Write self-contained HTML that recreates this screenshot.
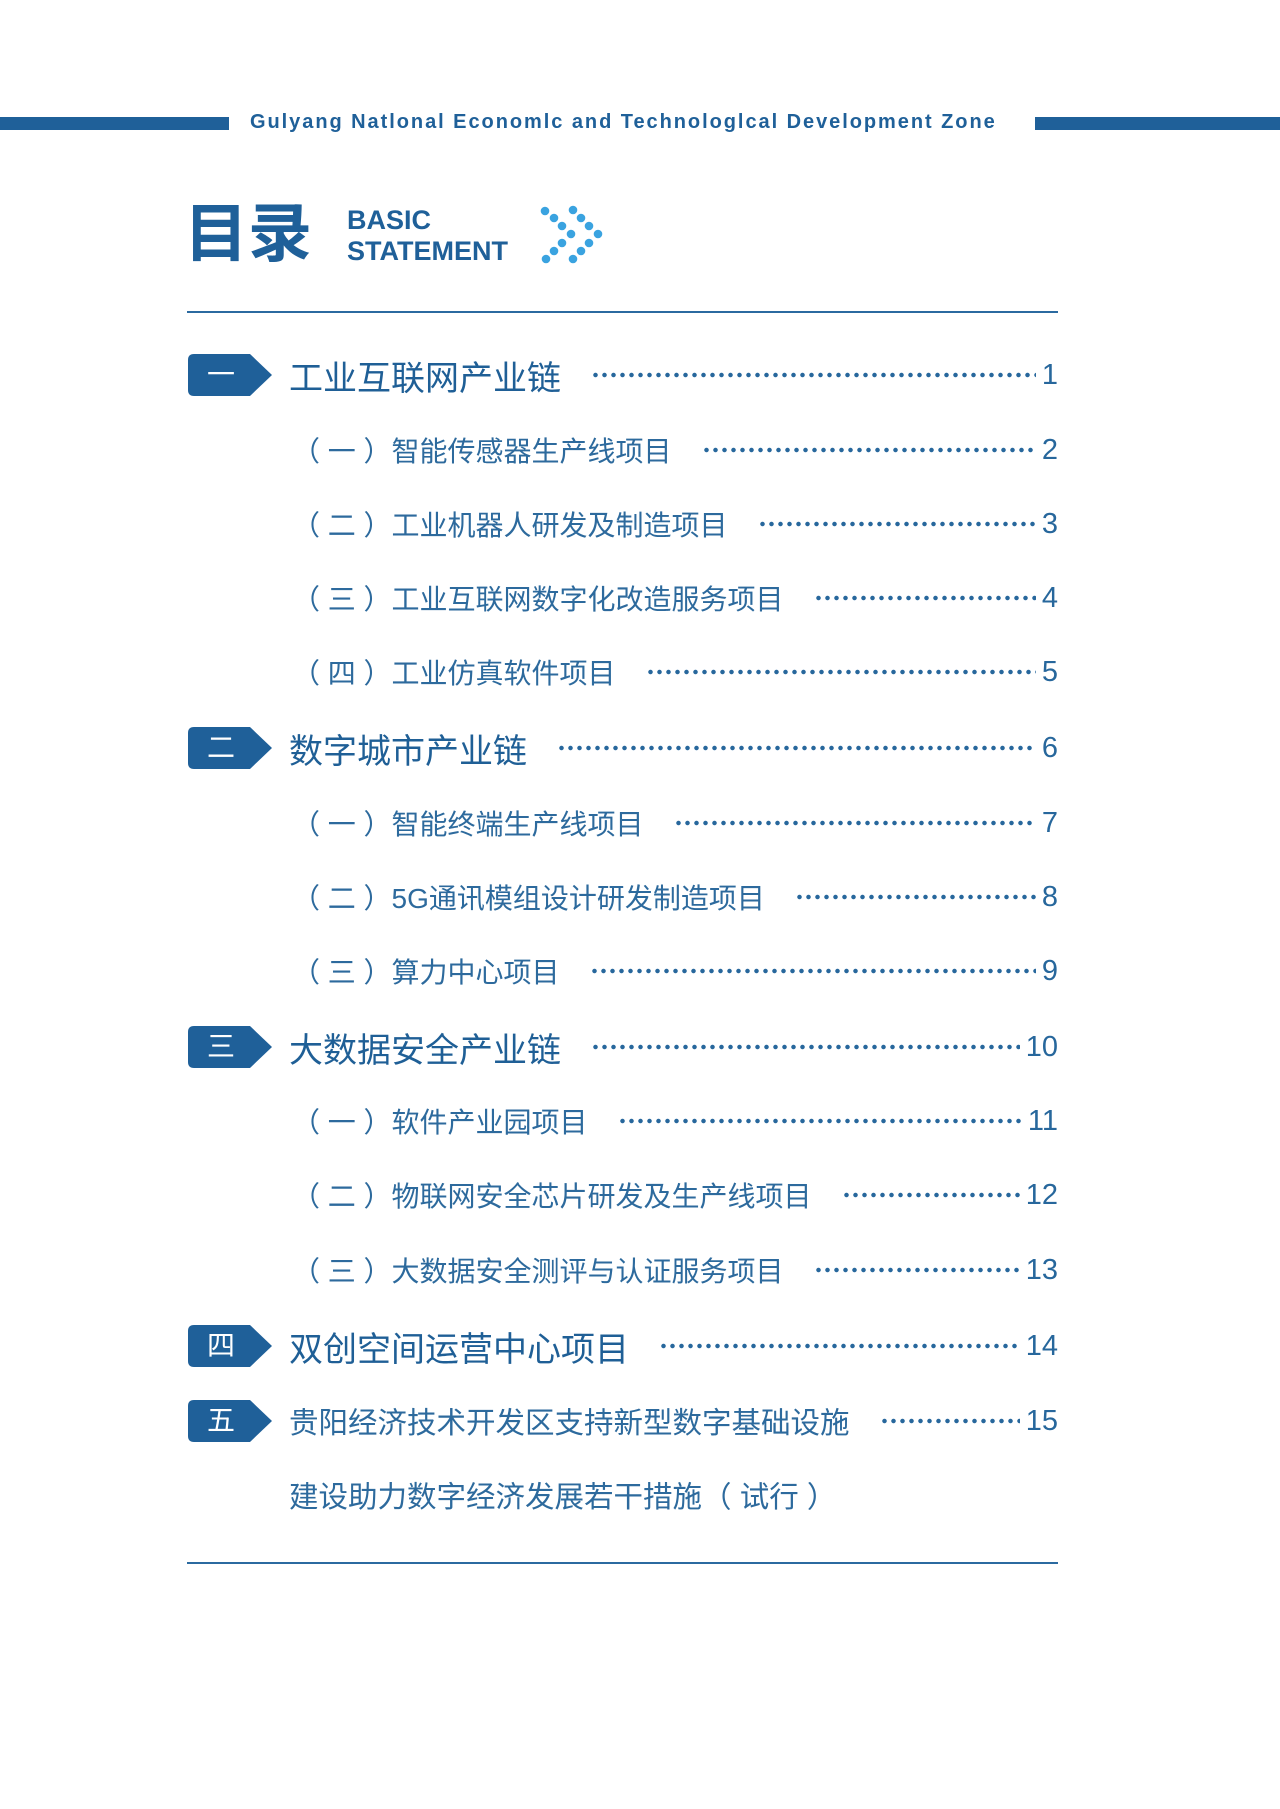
<!DOCTYPE html>
<html><head><meta charset="utf-8"><style>
body{margin:0;width:1280px;height:1809px;background:#fff;position:relative;overflow:hidden;font-family:"Liberation Sans","Noto Sans CJK SC",sans-serif;color:#27679c}
.abs{position:absolute}
.row{position:absolute;left:0;width:1058px;display:flex;align-items:center;height:44px;box-sizing:border-box}
.lead{flex:1;height:6px;margin:0 6px 0 30px;background:radial-gradient(circle,#27679c 2px,transparent 2.5px) 0 0/9px 6px repeat-x}
.num{font-size:29px;color:#27679c}
.ch{font-size:34px;color:#1f5f96}
.sub{font-size:28px;color:#2d6a9d}
.badge{position:absolute;left:188px;width:84px;height:42px}
.badge span{position:absolute;left:0;top:0;width:66px;height:42px;line-height:42px;text-align:center;color:#fff;font-size:28px}
</style></head><body>
<div class="abs" style="left:0;top:117px;width:229px;height:13px;background:#1f6099"></div>
<div class="abs" style="left:1035px;top:117px;width:245px;height:13px;background:#1f6099"></div>
<div class="abs" style="left:250px;top:111px;font-size:20px;font-weight:bold;color:#1f6099;white-space:nowrap;letter-spacing:1.95px">Gulyang Natlonal Economlc and Technologlcal Development Zone</div>
<div class="abs" style="left:184px;top:194px;font-size:64px;font-weight:bold;color:#1f6099;line-height:80px">目录</div>
<div class="abs" style="left:347px;top:205px;font-size:27px;font-weight:bold;color:#1f6099;line-height:31px">BASIC<br>STATEMENT</div>
<svg class="abs" style="left:536px;top:202px" width="72" height="68" viewBox="536 202 72 68" fill="#3aa3e0">
<circle cx="545" cy="211" r="4.3"/><circle cx="554" cy="218" r="4.3"/><circle cx="562" cy="226" r="4.3"/><circle cx="571" cy="234" r="4.3"/><circle cx="562" cy="243" r="4.3"/><circle cx="554" cy="251" r="4.3"/><circle cx="546" cy="259" r="4.3"/>
<circle cx="573" cy="210" r="4.3"/><circle cx="581" cy="218" r="4.3"/><circle cx="589" cy="226" r="4.3"/><circle cx="598" cy="234" r="4.3"/><circle cx="589" cy="243" r="4.3"/><circle cx="581" cy="251" r="4.3"/><circle cx="573" cy="259" r="4.3"/>
</svg>
<div class="abs" style="left:187px;top:311px;width:871px;height:2px;background:#2b6aa0"></div>
<div class="abs" style="left:187px;top:1562px;width:871px;height:2px;background:#2b6aa0"></div>

<svg width="0" height="0" style="position:absolute"><defs><path id="bd" d="M6 0H62L84 21L62 42H6Q0 42 0 36V6Q0 0 6 0Z" fill="#1f6099"/></defs></svg>

<div class="badge" style="top:354px"><svg width="84" height="42"><use href="#bd"/></svg><span>一</span></div>
<div class="row" style="top:353px;padding-left:289px"><span class="ch">工业互联网产业链</span><i class="lead"></i><span class="num">1</span></div>
<div class="row" style="top:428px;padding-left:292px"><span class="sub">（ 一 ）智能传感器生产线项目</span><i class="lead"></i><span class="num">2</span></div>
<div class="row" style="top:502px;padding-left:292px"><span class="sub">（ 二 ）工业机器人研发及制造项目</span><i class="lead"></i><span class="num">3</span></div>
<div class="row" style="top:576px;padding-left:292px"><span class="sub">（ 三 ）工业互联网数字化改造服务项目</span><i class="lead"></i><span class="num">4</span></div>
<div class="row" style="top:650px;padding-left:292px"><span class="sub">（ 四 ）工业仿真软件项目</span><i class="lead"></i><span class="num">5</span></div>

<div class="badge" style="top:727px"><svg width="84" height="42"><use href="#bd"/></svg><span>二</span></div>
<div class="row" style="top:726px;padding-left:289px"><span class="ch">数字城市产业链</span><i class="lead"></i><span class="num">6</span></div>
<div class="row" style="top:801px;padding-left:292px"><span class="sub">（ 一 ）智能终端生产线项目</span><i class="lead"></i><span class="num">7</span></div>
<div class="row" style="top:875px;padding-left:292px"><span class="sub">（ 二 ）5G通讯模组设计研发制造项目</span><i class="lead"></i><span class="num">8</span></div>
<div class="row" style="top:949px;padding-left:292px"><span class="sub">（ 三 ）算力中心项目</span><i class="lead"></i><span class="num">9</span></div>

<div class="badge" style="top:1026px"><svg width="84" height="42"><use href="#bd"/></svg><span>三</span></div>
<div class="row" style="top:1025px;padding-left:289px"><span class="ch">大数据安全产业链</span><i class="lead"></i><span class="num">10</span></div>
<div class="row" style="top:1099px;padding-left:292px"><span class="sub">（ 一 ）软件产业园项目</span><i class="lead"></i><span class="num">11</span></div>
<div class="row" style="top:1173px;padding-left:292px"><span class="sub">（ 二 ）物联网安全芯片研发及生产线项目</span><i class="lead"></i><span class="num">12</span></div>
<div class="row" style="top:1248px;padding-left:292px"><span class="sub">（ 三 ）大数据安全测评与认证服务项目</span><i class="lead"></i><span class="num">13</span></div>

<div class="badge" style="top:1325px"><svg width="84" height="42"><use href="#bd"/></svg><span>四</span></div>
<div class="row" style="top:1324px;padding-left:289px"><span class="ch">双创空间运营中心项目</span><i class="lead"></i><span class="num">14</span></div>
<div class="badge" style="top:1400px"><svg width="84" height="42"><use href="#bd"/></svg><span>五</span></div>
<div class="row" style="top:1399px;padding-left:289px"><span class="sub" style="font-size:29.5px">贵阳经济技术开发区支持新型数字基础设施</span><i class="lead"></i><span class="num">15</span></div>
<div class="row" style="top:1473px;padding-left:289px"><span class="sub" style="font-size:29.5px">建设助力数字经济发展若干措施（ 试行 ）</span></div>
</body></html>
